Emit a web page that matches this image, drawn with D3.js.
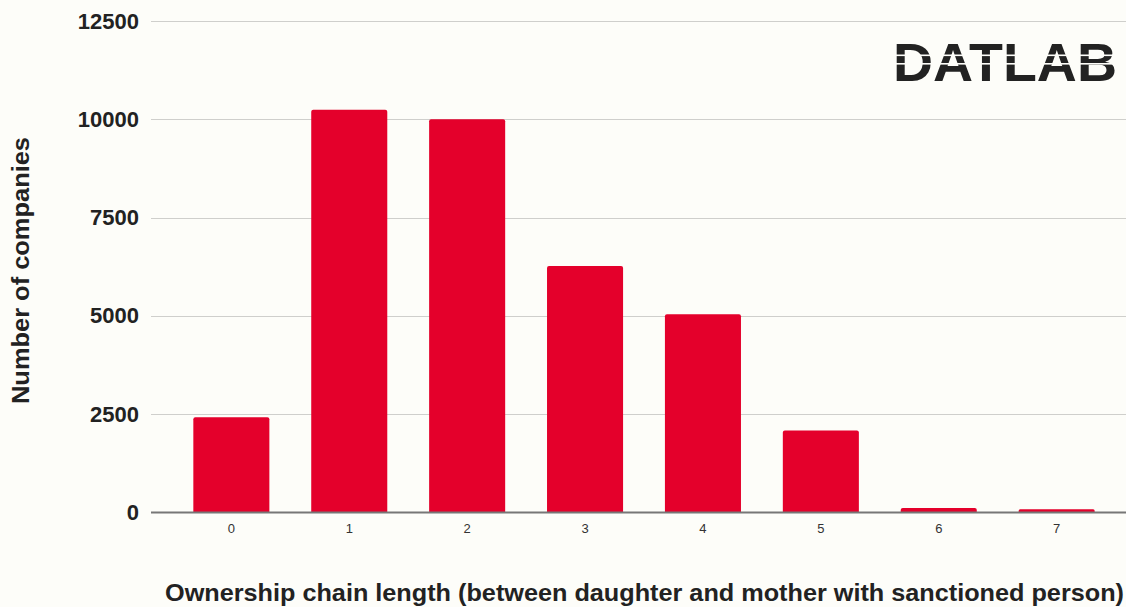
<!DOCTYPE html>
<html>
<head>
<meta charset="utf-8">
<script src="https://cdn.jsdelivr.net/npm/d3@7"></script>
<style>
  html, body { margin: 0; padding: 0; background: #fdfdf9; }
  svg { display: block; }
</style>
</head>
<body>
<svg id="chart" width="1126" height="607"></svg>
<script>
// Ownership chain length vs number of companies
const categories = ["0", "1", "2", "3", "4", "5", "6", "7"];
const companies = [2420, 10240, 10000, 6270, 5040, 2085, 115, 80];
const yTicks = [0, 2500, 5000, 7500, 10000, 12500];

const W = 1126, H = 607;
const bg = "#fdfdf9";
const svg = d3.select("#chart");
svg.append("rect").attr("width", W).attr("height", H).attr("fill", bg);

const plotLeft = 151, plotRight = 1126;
const y = d3.scaleLinear().domain([0, 12500]).range([512.5, 21]);
const x = d3.scaleBand().domain(categories).range([172.4, 1115.6])
  .paddingInner(0.355).paddingOuter(0.1775);

// gridlines
svg.append("g").selectAll("line").data(yTicks.filter(d => d > 0)).join("line")
  .attr("x1", plotLeft).attr("x2", plotRight)
  .attr("y1", d => Math.round(y(d)) + 0.5).attr("y2", d => Math.round(y(d)) + 0.5)
  .attr("stroke", "#cfcfcc").attr("stroke-width", 1);

// y axis labels
const yAxis = d3.axisLeft(y).tickValues(yTicks).tickSize(0).tickPadding(0).tickFormat(d3.format("d"));
const gy = svg.append("g").attr("transform", `translate(139,0)`).call(yAxis);
gy.select(".domain").remove();
gy.selectAll("text")
  .attr("font-family", "'Liberation Sans', Arial, sans-serif")
  .attr("font-weight", "bold").attr("font-size", 22).attr("fill", "#222");

// bars with slightly rounded tops
const r = 2;
svg.append("g").selectAll("path").data(companies).join("path")
  .attr("fill", "#e4002b")
  .attr("d", (d, i) => {
    const x0 = x(categories[i]), w = x.bandwidth();
    const top = y(d), base = y(0);
    const rr = Math.min(r, (base - top) / 2);
    return `M${x0},${base} V${top + rr} Q${x0},${top} ${x0 + rr},${top} H${x0 + w - rr} Q${x0 + w},${top} ${x0 + w},${top + rr} V${base} Z`;
  });

// baseline
svg.append("line").attr("x1", plotLeft).attr("x2", plotRight)
  .attr("y1", y(0)).attr("y2", y(0)).attr("stroke", "#777").attr("stroke-width", 2);

// x axis labels
const xAxis = d3.axisBottom(x).tickSize(0).tickPadding(0);
const gx = svg.append("g").attr("transform", `translate(0,524)`).call(xAxis);
gx.select(".domain").remove();
gx.selectAll("text")
  .attr("font-family", "'Liberation Sans', Arial, sans-serif")
  .attr("font-size", 13).attr("fill", "#333");

// axis titles
svg.append("text")
  .attr("x", 165).attr("y", 601)
  .attr("font-family", "'Liberation Sans', Arial, sans-serif")
  .attr("font-weight", "bold").attr("font-size", 24).attr("fill", "#222")
  .attr("textLength", 959).attr("lengthAdjust", "spacingAndGlyphs")
  .text("Ownership chain length (between daughter and mother with sanctioned person)");

svg.append("text")
  .attr("transform", "translate(28.5,270.5) rotate(-90)")
  .attr("text-anchor", "middle")
  .attr("font-family", "'Liberation Sans', Arial, sans-serif")
  .attr("font-weight", "bold").attr("font-size", 24).attr("fill", "#222")
  .attr("textLength", 267).attr("lengthAdjust", "spacingAndGlyphs")
  .text("Number of companies");

// DATLAB logo with horizontal cut lines
const logo = svg.append("g");
logo.append("text")
  .attr("x", 893).attr("y", 81)
  .attr("font-family", "'Liberation Sans', Arial, sans-serif")
  .attr("font-weight", "bold").attr("font-size", 54).attr("fill", "#222")
  .attr("textLength", 224).attr("lengthAdjust", "spacingAndGlyphs")
  .text("DATLAB");
[54.5, 63].forEach(yy => {
  logo.append("rect").attr("x", 888).attr("y", yy).attr("width", 235).attr("height", 1.6).attr("fill", bg);
});
</script>
</body>
</html>
